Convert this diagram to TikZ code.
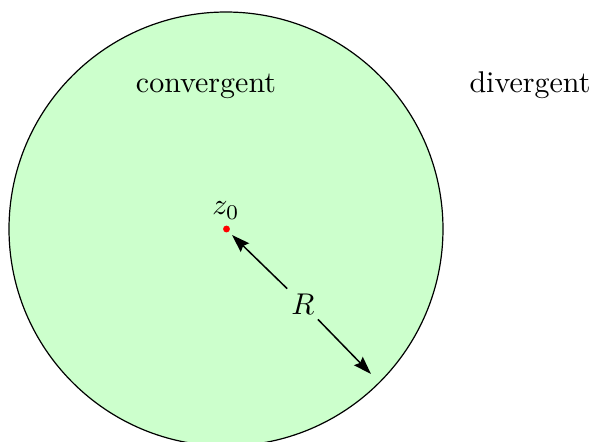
\documentclass[tikz,border=0pt]{standalone}
\usetikzlibrary{arrows.meta}
\begin{document}
\begin{tikzpicture}[x=0.3333pt,y=-0.3333pt,
  lbl/.style={inner sep=1pt},
  arr/.style={line width=0.5pt,-{Stealth[length=6pt,width=4pt,inset=0.8pt]}}]
\useasboundingbox (0,0) rectangle (592,442);
\path[draw=black,fill={rgb,255:red,204;green,255;blue,204},line width=0.4pt] (226,229) circle[radius=217];
\node[circle,fill=red,inner sep=0pt,minimum size=2.3pt] (z) at (226.5,229) {};
\node[lbl,anchor=south] (zl) at (226,223) {$z_0$};
\coordinate (a) at (232,235);
\coordinate (b) at (371,374);
\node[lbl,inner sep=1.5pt] (R) at (303,304) {$R$};
\draw[arr] (R) -- (a);
\draw[arr] (R) -- (b);
\node[lbl,anchor=base] (c) at (206,92) {convergent};
\node[lbl,anchor=base] (d) at (530,92) {divergent};
\end{tikzpicture}
\end{document}
